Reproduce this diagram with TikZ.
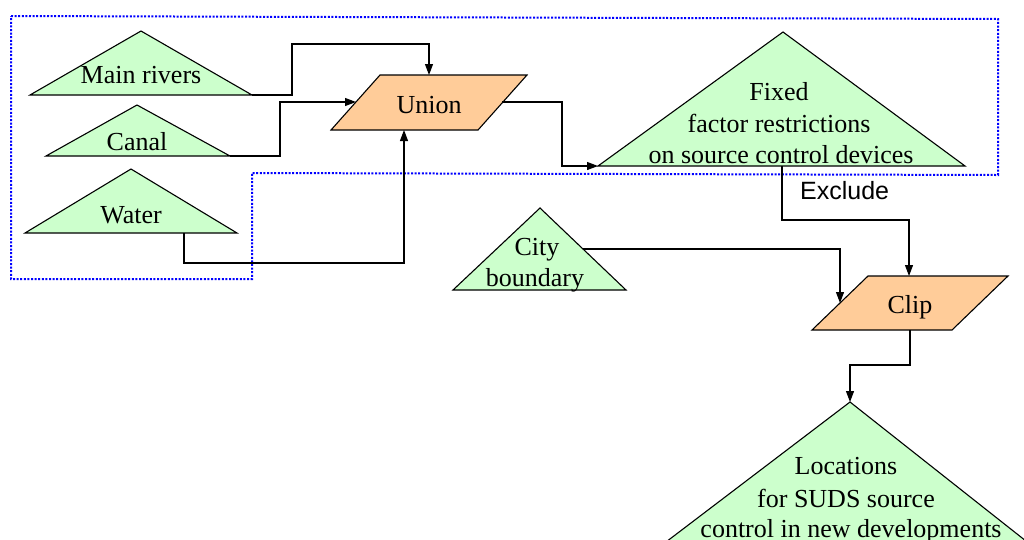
\documentclass[tikz,border=0pt]{standalone}
\usepackage{fontspec}
\setmainfont{Liberation Serif}
\newfontfamily\labelfont{Liberation Sans}
\usetikzlibrary{arrows.meta}
\definecolor{layergreen}{HTML}{CCFFCC}
\definecolor{oporange}{HTML}{FFCC99}
\tikzset{
  layer/.style={draw=black, fill=layergreen, line width=1.1pt, line join=miter},
  operation/.style={draw=black, fill=oporange, line width=1.1pt},
  txt/.style={anchor=base, inner sep=0pt, font=\fontsize{26}{31}\selectfont},
  flow/.style={draw=black, line width=1.1pt, -{Triangle[length=11pt,width=8pt]}},
  group/.style={draw=blue, line width=2pt, dash pattern=on 2pt off 1.6pt},
}
\begin{document}
\begin{tikzpicture}[x=1pt, y=-1pt]
\useasboundingbox (0,0) rectangle (1024,539);
\clip (0,0) rectangle (1024,539);

% dotted group around the restriction inputs
\draw[group] (11,16) -- (998,19) -- (998,175) -- (252,173) -- (252,279) -- (11,279) -- cycle;

% input layers
\coordinate (mr-t) at (141,31);
\coordinate (mr-l) at (30,95);
\coordinate (mr-r) at (252,95);
\draw[layer] (mr-t) -- (mr-r) -- (mr-l) -- cycle;
\node[txt] (mr) at (141,83) {Main rivers};

\coordinate (ca-t) at (137,105);
\coordinate (ca-l) at (46,156);
\coordinate (ca-r) at (230,156);
\draw[layer] (ca-t) -- (ca-r) -- (ca-l) -- cycle;
\node[txt] (ca) at (137,150) {Canal};

\coordinate (wa-t) at (131,169);
\coordinate (wa-l) at (25,233);
\coordinate (wa-r) at (237,233);
\coordinate (wa-b) at (184,233);
\draw[layer] (wa-t) -- (wa-r) -- (wa-l) -- cycle;
\node[txt] (wa) at (131,223) {Water};

% union operation
\coordinate (un-tl) at (380,75);
\coordinate (un-tr) at (527,75);
\coordinate (un-br) at (478,130);
\coordinate (un-bl) at (331,130);
\draw[operation] (un-tl) -- (un-tr) -- (un-br) -- (un-bl) -- cycle;
\node[txt] (un) at (429,113) {Union};
\coordinate (un-t) at (429,75);
\coordinate (un-l) at (356,102);
\coordinate (un-b) at (404,130);
\coordinate (un-r) at (502,102);

% fixed factor restrictions
\coordinate (fx-t) at (783,32);
\coordinate (fx-l) at (598,166);
\coordinate (fx-r) at (965,166);
\coordinate (fx-b) at (782,166);
\draw[layer] (fx-t) -- (fx-r) -- (fx-l) -- cycle;
\node[txt] (fx1) at (779,100) {Fixed};
\node[txt] (fx2) at (779,132) {factor restrictions};
\node[txt] (fx3) at (781,163) {on source control devices};

% city boundary
\coordinate (ci-t) at (540,208);
\coordinate (ci-l) at (453,290);
\coordinate (ci-r) at (626,290);
\coordinate (ci-e) at (583,249);
\draw[layer] (ci-t) -- (ci-r) -- (ci-l) -- cycle;
\node[txt] (ci1) at (537,255) {City};
\node[txt] (ci2) at (535,286) {boundary};

% clip operation
\coordinate (cl-tl) at (868,276);
\coordinate (cl-tr) at (1008,276);
\coordinate (cl-br) at (952,330);
\coordinate (cl-bl) at (812,330);
\draw[operation] (cl-tl) -- (cl-tr) -- (cl-br) -- (cl-bl) -- cycle;
\node[txt] (cl) at (910,313) {Clip};
\coordinate (cl-t) at (909,276);
\coordinate (cl-l) at (840,303);
\coordinate (cl-b) at (910,330);

% result layer
\coordinate (lo-t) at (850,402);
\coordinate (lo-l) at (662,545);
\coordinate (lo-r) at (1031,545);
\draw[layer] (lo-t) -- (lo-r) -- (lo-l) -- cycle;
\node[txt] (lo1) at (846,474) {Locations};
\node[txt] (lo2) at (846,507) {for SUDS source};
\node[txt] (lo3) at (851,537) {control in new developments};

% flows
\draw[flow] (mr-r) -- ++(40,0) -- ++(0,-51) -| (un-t);
\draw[flow] (ca-r) -- ++(50,0) |- (un-l);
\draw[flow] (wa-b) -- ++(0,30) -| (un-b);
\draw[flow] (un-r) -- ++(60,0) |- (fx-l);
\draw[flow] (fx-b) -- ++(0,54) -| (cl-t);
\draw[flow] (ci-e) -| (cl-l);
\draw[flow] (cl-b) -- ++(0,35) -| (lo-t);

\node[anchor=base west, inner sep=0pt, font=\labelfont\fontsize{25}{30}\selectfont] (ex) at (800,199) {Exclude};
\end{tikzpicture}
\end{document}
